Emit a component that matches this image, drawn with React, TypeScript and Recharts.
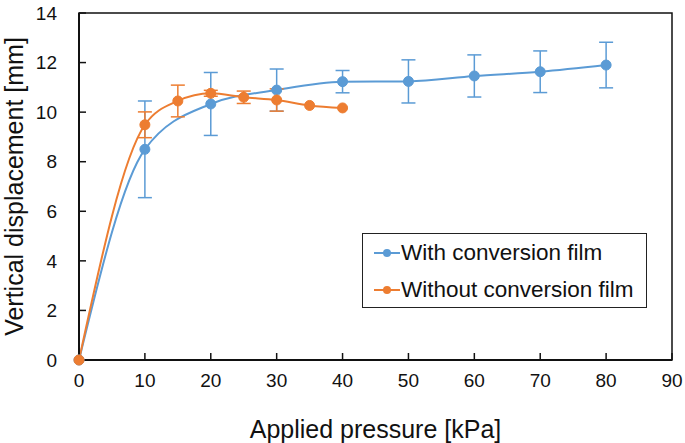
import React from "react"
import {
  LineChart,
  Line,
  XAxis,
  YAxis,
  ErrorBar,
  ReferenceArea,
} from "recharts"

// pressure [kPa], displacement [mm], std dev
const withPressure = [0, 10, 20, 30, 40, 50, 60, 70, 80]
const withValues = [0, 8.5, 10.33, 10.89, 11.23, 11.24, 11.46, 11.63, 11.9]
const withErrors = [0, 1.95, 1.27, 0.85, 0.45, 0.87, 0.85, 0.84, 0.92]

const withoutPressure = [0, 10, 15, 20, 25, 30, 35, 40]
const withoutValues = [0, 9.49, 10.45, 10.76, 10.6, 10.49, 10.27, 10.17]
const withoutErrors = [0, 0.52, 0.64, 0.12, 0.25, 0.45, 0, 0]

const xTicks = [0, 10, 20, 30, 40, 50, 60, 70, 80, 90]
const yTicks = [0, 2, 4, 6, 8, 10, 12, 14]

const seriesNames = ["With conversion film", "Without conversion film"]
const BLUE = "#5B9BD5"
const ORANGE = "#ED7D31"
const FONT = "'Liberation Sans', Arial, sans-serif"

const withData = withPressure.map((p, i) => ({ p, v: withValues[i], err: withErrors[i] }))
const withoutData = withoutPressure.map((p, i) => ({ p, v: withoutValues[i], err: withoutErrors[i] }))

function LegendBox() {
  const colors = [BLUE, ORANGE]
  return (
    <div
      style={{
        position: "absolute",
        left: 362,
        top: 233,
        border: "1.5px solid #222",
        background: "#fff",
        width: 285,
        height: 75,
        boxSizing: "border-box",
        padding: "0 0 0 11px",
        fontFamily: FONT,
        fontSize: 22.5,
        color: "#111",
      }}
    >
      {seriesNames.map((name, i) => (
        <div key={name} style={{ display: "flex", alignItems: "center", height: 37 }}>
          <svg width={26} height={12} style={{ marginRight: 1 }}>
            <line x1={0} y1={6} x2={26} y2={6} stroke={colors[i]} strokeWidth={2} />
            <circle cx={13} cy={6} r={4} fill={colors[i]} />
          </svg>
          <span>{name}</span>
        </div>
      ))}
    </div>
  )
}

export default function App() {
  return (
    <div style={{ position: "absolute", left: 0, top: 0, width: 685, height: 443, background: "#fff" }}>
      <LineChart width={685} height={443} margin={{ top: 13, right: 13, bottom: 0, left: 0 }}>
        <XAxis
          dataKey="p"
          type="number"
          domain={[0, 90]}
          ticks={xTicks}
          allowDuplicatedCategory={false}
          height={83}
          tickSize={-7}
          tickMargin={21}
          axisLine={{ stroke: "#111", strokeWidth: 2 }}
          tickLine={{ stroke: "#111", strokeWidth: 1.5 }}
          tick={{ fill: "#111", fontSize: 19, fontFamily: FONT }}
          label={{
            value: "Applied pressure [kPa]",
            position: "insideBottom",
            offset: 5,
            fill: "#111",
            fontSize: 25,
            fontFamily: FONT,
          }}
        />
        <YAxis
          type="number"
          domain={[0, 14]}
          ticks={yTicks}
          width={79}
          tickSize={-7}
          tickMargin={29}
          axisLine={{ stroke: "#111", strokeWidth: 2 }}
          tickLine={{ stroke: "#111", strokeWidth: 1.5 }}
          tick={{ fill: "#111", fontSize: 19, fontFamily: FONT }}
          label={{
            value: "Vertical displacement [mm]",
            angle: -90,
            position: "center",
            dx: -25,
            fill: "#111",
            fontSize: 25,
            fontFamily: FONT,
          }}
        />
        <ReferenceArea x1={0} x2={90} y1={0} y2={14} fill="none" stroke="#111" strokeWidth={1.5} />
        <Line
          data={withData}
          dataKey="v"
          name={seriesNames[0]}
          type="monotone"
          stroke={BLUE}
          strokeWidth={2}
          dot={{ r: 5, fill: BLUE, stroke: BLUE, strokeWidth: 1 }}
          isAnimationActive={false}
        >
          <ErrorBar dataKey="err" width={7} stroke={BLUE} strokeWidth={1.5} direction="y" />
        </Line>
        <Line
          data={withoutData}
          dataKey="v"
          name={seriesNames[1]}
          type="monotone"
          stroke={ORANGE}
          strokeWidth={2}
          dot={{ r: 5, fill: ORANGE, stroke: ORANGE, strokeWidth: 1 }}
          isAnimationActive={false}
        >
          <ErrorBar dataKey="err" width={7} stroke={ORANGE} strokeWidth={1.5} direction="y" />
        </Line>
      </LineChart>
      <LegendBox />
    </div>
  )
}
